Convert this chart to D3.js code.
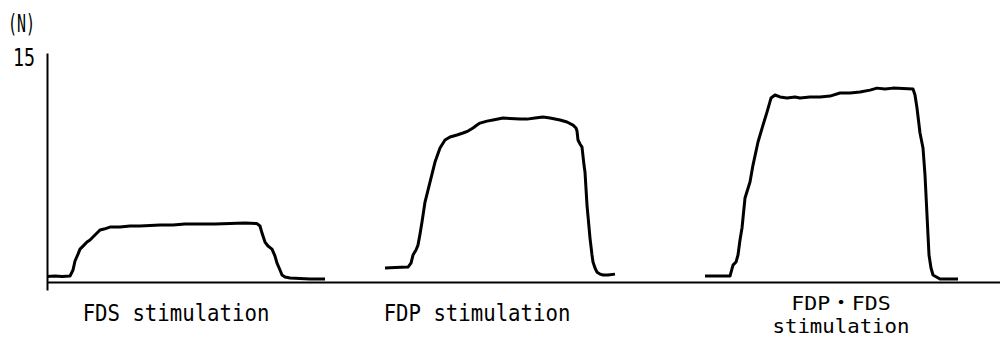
<!DOCTYPE html>
<html>
<head>
<meta charset="utf-8">
<script src="https://cdn.jsdelivr.net/npm/d3@7"></script>
<style>
  html, body { margin: 0; padding: 0; background: #fff; }
  svg { display: block; }
  text { font-family: "DejaVu Sans Mono", "Noto Sans CJK JP", monospace; fill: #000; }
</style>
</head>
<body>
<svg width="1000" height="338"></svg>
<script>
// time (s) and force (N)
const fdsTime = [0, 0.8, 1.5, 2.3, 2.6, 2.8, 3.1, 3.3, 3.7, 4.0, 4.3, 4.6, 5.0, 5.3, 5.7, 6.3, 7.3, 8.3, 9.3, 10.3, 11.3, 12.6, 13.8, 15.3, 16.8, 18.3, 19.8, 21.0, 21.3, 21.5, 21.8, 22.1, 22.5, 22.8, 23.0, 23.3, 23.5, 23.8, 24.3, 25.3, 26.3, 27.8]
const fdsForce = [0.36, 0.39, 0.36, 0.39, 0.79, 1.38, 1.83, 2.16, 2.42, 2.62, 2.75, 2.95, 3.21, 3.41, 3.47, 3.60, 3.60, 3.67, 3.67, 3.70, 3.73, 3.73, 3.80, 3.80, 3.80, 3.83, 3.86, 3.83, 3.67, 3.21, 2.62, 2.36, 2.16, 1.70, 1.24, 0.79, 0.46, 0.33, 0.26, 0.23, 0.20, 0.20]

const fdpTime = [33.8, 34.8, 36.1, 36.4, 36.6, 36.9, 37.1, 37.3, 37.5, 37.8, 38.1, 38.3, 38.8, 39.3, 39.8, 40.3, 41.0, 41.6, 42.1, 42.6, 43.0, 43.3, 44.0, 44.6, 45.6, 46.3, 47.3, 48.0, 48.8, 49.6, 50.3, 51.3, 52.0, 52.6, 52.9, 53.0, 53.1, 53.3, 53.5, 53.7, 53.8, 54.0, 54.3, 54.5, 54.6, 54.8, 55.0, 55.3, 55.6, 56.1, 56.8]
const fdpForce = [0.92, 0.95, 0.98, 1.24, 1.77, 2.10, 2.42, 3.14, 3.93, 5.24, 6.02, 6.55, 7.86, 8.78, 9.30, 9.50, 9.63, 9.76, 9.89, 10.09, 10.28, 10.41, 10.54, 10.61, 10.74, 10.71, 10.67, 10.67, 10.74, 10.81, 10.74, 10.61, 10.48, 10.28, 10.09, 9.89, 9.30, 9.04, 8.84, 7.66, 7.20, 5.04, 2.88, 1.77, 1.31, 0.92, 0.65, 0.52, 0.46, 0.46, 0.52]

const bothTime = [65.8, 67.1, 68.3, 68.6, 68.9, 69.1, 69.3, 69.5, 69.8, 70.3, 70.6, 71.1, 71.6, 72.0, 72.4, 72.8, 73.3, 74.0, 74.8, 75.3, 76.3, 77.3, 78.3, 79.3, 80.3, 81.3, 82.3, 83.0, 83.8, 84.6, 85.6, 86.6, 86.8, 87.0, 87.3, 87.6, 87.8, 88.0, 88.2, 88.4, 88.6, 89.3, 90.3, 91.1]
const bothForce = [0.39, 0.39, 0.39, 1.11, 1.31, 1.77, 2.75, 3.54, 5.50, 6.55, 7.66, 9.17, 10.28, 11.13, 12.05, 12.25, 12.12, 12.05, 12.12, 12.05, 12.12, 12.12, 12.18, 12.38, 12.38, 12.44, 12.57, 12.70, 12.64, 12.70, 12.67, 12.64, 12.25, 11.40, 9.76, 8.78, 7.01, 4.39, 1.77, 0.92, 0.46, 0.20, 0.20, 0.20]

const yTicks = [15]
const unitLabel = '(N)'
const labelLines = [['FDS stimulation'], ['FDP stimulation'], ['FDP・FDS', 'stimulation']]
const labelTimes = [12.9, 43.0, 79.4]

const svg = d3.select('svg')
const width = 1000
const left = 47

const x = d3.scaleLinear().domain([0, 95.3]).range([left, width])
const y = d3.scaleLinear().domain([-0.52, 15]).range([290, 53])

// y axis
const yAxis = d3.axisLeft(y).tickValues(yTicks).tickSize(0).tickSizeOuter(0).tickPadding(12)
const yG = svg.append('g').attr('transform', `translate(${left},0)`).call(yAxis)
yG.select('.domain').attr('stroke', '#000').attr('stroke-width', 2)
yG.selectAll('text')
    .attr('font-family', '"DejaVu Sans Mono", monospace')
    .attr('font-size', 24)
    .attr('dy', 12)
    .attr('textLength', 22)
    .attr('lengthAdjust', 'spacingAndGlyphs')

// x axis (no ticks)
const xAxis = d3.axisBottom(x).tickValues([]).tickSizeOuter(0)
const xG = svg.append('g').attr('transform', `translate(0,${y(0)})`).call(xAxis)
xG.select('.domain').attr('stroke', '#000').attr('stroke-width', 2)

svg.append('text')
    .attr('x', 8)
    .attr('y', 32)
    .attr('font-size', 24)
    .attr('textLength', 27)
    .attr('lengthAdjust', 'spacingAndGlyphs')
    .text(unitLabel)

// traces
const series = [
    { t: fdsTime, f: fdsForce },
    { t: fdpTime, f: fdpForce },
    { t: bothTime, f: bothForce },
]
const line = d3.line()
    .x((d) => x(d[0]))
    .y((d) => y(d[1]))

svg.append('g')
    .selectAll('path')
    .data(series)
    .join('path')
    .attr('d', (s) => line(s.t.map((t, i) => [t, s.f[i]])))
    .attr('fill', 'none')
    .attr('stroke', '#000')
    .attr('stroke-width', 3)
    .attr('stroke-linejoin', 'round')

// labels under the axis
const charW = 12.45
labelLines.forEach((lines, i) => {
    const single = lines.length === 1
    const baseY = single ? 321 : 310
    lines.forEach((txt, j) => {
        let n = 0
        for (const ch of txt) n += ch === '・' ? 2 : 1
        svg.append('text')
            .attr('x', x(labelTimes[i]))
            .attr('y', baseY + j * 23)
            .attr('text-anchor', 'middle')
            .attr('font-size', single ? 23 : 19.5)
            .attr('textLength', n * charW)
            .attr('lengthAdjust', 'spacingAndGlyphs')
            .text(txt)
    })
})
</script>
</body>
</html>
